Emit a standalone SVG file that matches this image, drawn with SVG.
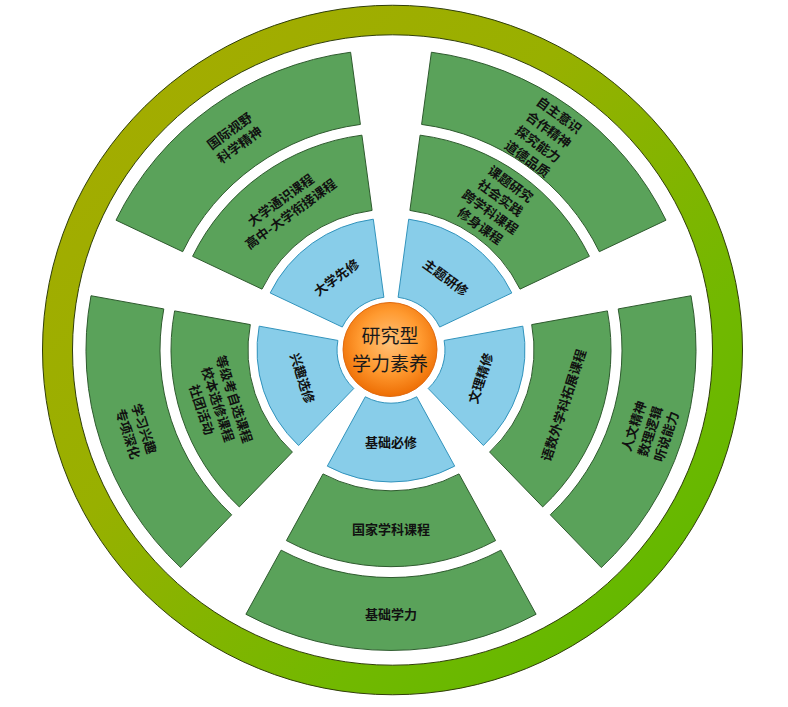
<svg xmlns="http://www.w3.org/2000/svg" width="788" height="707" viewBox="0 0 788 707">
<defs>
<linearGradient id="ringGrad" x1="0" y1="0" x2="1" y2="1">
<stop offset="0" stop-color="#a8aa00"/>
<stop offset="0.4" stop-color="#98b000"/>
<stop offset="0.7" stop-color="#72b800"/>
<stop offset="1" stop-color="#58b800"/>
</linearGradient>
<radialGradient id="orangeGrad" cx="0.5" cy="0.42" r="0.6">
<stop offset="0" stop-color="#ffc27a"/>
<stop offset="0.55" stop-color="#ff9a30"/>
<stop offset="1" stop-color="#ec6a00"/>
</radialGradient>
<style>
.g{fill:#5aa25a;stroke:#2d5a2d;stroke-width:1}
.b{fill:#88cde9;stroke:#3092bb;stroke-width:1}
.t{font-family:"Noto Sans CJK SC","Noto Sans",sans-serif;font-size:13px;font-weight:bold;fill:#111;text-anchor:middle;dominant-baseline:central}
.c{font-family:"Noto Sans CJK SC","Noto Sans",sans-serif;font-size:19px;fill:#1a1a1a;text-anchor:middle}
</style>
</defs>
<rect width="788" height="707" fill="#ffffff"/>

<g id="ring">
<path transform="translate(392.5 350) scale(1 0.985)" fill="url(#ringGrad)" stroke="#2e3c08" stroke-width="1" fill-rule="evenodd" d="M-350,0 a350,350 0 1 0 700,0 a350,350 0 1 0 -700,0 Z M-320,0 a320,320 0 1 0 640,0 a320,320 0 1 0 -640,0 Z"/>
</g>

<g id="node-jichuxueli">
<path class="g" transform="translate(391 350) scale(1 0.985)" d="M145.1,268.3 A305 305 0 0 1 -145.1,268.3 L-109.9,203.2 A231 231 0 0 0 109.9,203.2 Z"/>
<text class="t" x="391" y="613">基础学力</text>
</g>
<g id="node-guojiaxueke">
<path class="g" transform="translate(391 350) scale(1 0.985)" d="M104.6,193.5 A220 220 0 0 1 -104.6,193.5 L-68.0,125.8 A143 143 0 0 0 68.0,125.8 Z"/>
<text class="t" x="391" y="528">国家学科课程</text>
</g>
<g id="node-jichubixiu">
<path class="b" transform="translate(391 350) scale(1 0.985)" d="M63.7,117.9 A134 134 0 0 1 -63.7,117.9 L-25.7,47.5 A54 54 0 0 0 25.7,47.5 Z"/>
<text class="t" x="391" y="441">基础必修</text>
</g>

<g id="node-xuexixingqu">
<path class="g" transform="translate(391 350) scale(1 0.985)" d="M-210.3,220.9 A305 305 0 0 1 -300.0,-55.1 L-227.2,-41.7 A231 231 0 0 0 -159.3,167.3 Z"/>
<text class="t" transform="translate(137 431) rotate(72)"><tspan x="0" y="-8.5">学习兴趣</tspan><tspan x="0" y="8.5">专项深化</tspan></text>
</g>
<g id="node-dengjikao">
<path class="g" transform="translate(391 350) scale(1 0.985)" d="M-151.7,159.3 A220 220 0 0 1 -216.4,-39.7 L-140.7,-25.8 A143 143 0 0 0 -98.6,103.6 Z"/>
<text class="t" transform="translate(219 404) rotate(72)"><tspan x="0" y="-17">等级考自选课程</tspan><tspan x="0" y="0">校本选修课程</tspan><tspan x="0" y="17">社团活动</tspan></text>
</g>
<g id="node-xingquxuanxiu">
<path class="b" transform="translate(391 350) scale(1 0.985)" d="M-92.4,97.0 A134 134 0 0 1 -131.8,-24.2 L-53.1,-9.7 A54 54 0 0 0 -37.2,39.1 Z"/>
<text class="t" transform="translate(303 378) rotate(72)">兴趣选修</text>
</g>

<g id="node-guojishiye">
<path class="g" transform="translate(391 350) scale(1 0.985)" d="M-275.0,-131.8 A305 305 0 0 1 -40.4,-302.3 L-30.6,-229.0 A231 231 0 0 0 -208.3,-99.8 Z"/>
<text class="t" transform="translate(234 137) rotate(-36)"><tspan x="0" y="-8.5">国际视野</tspan><tspan x="0" y="8.5">科学精神</tspan></text>
</g>
<g id="node-daxuetongshi">
<path class="g" transform="translate(391 350) scale(1 0.985)" d="M-198.4,-95.1 A220 220 0 0 1 -29.1,-218.1 L-18.9,-141.7 A143 143 0 0 0 -129.0,-61.8 Z"/>
<text class="t" transform="translate(285 206) rotate(-36)"><tspan x="0" y="-8.5">大学通识课程</tspan><tspan x="0" y="8.5">高中-大学衔接课程</tspan></text>
</g>
<g id="node-daxuexianxiu">
<path class="b" transform="translate(391 350) scale(1 0.985)" d="M-120.8,-57.9 A134 134 0 0 1 -17.7,-132.8 L-7.1,-53.5 A54 54 0 0 0 -48.7,-23.3 Z"/>
<text class="t" transform="translate(336 277) rotate(-36)">大学先修</text>
</g>

<g id="node-zizhuyishi">
<path class="g" transform="translate(391 350) scale(1 0.985)" d="M40.4,-302.3 A305 305 0 0 1 275.0,-131.8 L208.3,-99.8 A231 231 0 0 0 30.6,-229.0 Z"/>
<text class="t" transform="translate(544 136) rotate(36)"><tspan x="0" y="-27">自主意识</tspan><tspan x="0" y="-9">合作精神</tspan><tspan x="0" y="9">探究能力</tspan><tspan x="0" y="27">道德品质</tspan></text>
</g>
<g id="node-ketiyanjiu">
<path class="g" transform="translate(391 350) scale(1 0.985)" d="M29.1,-218.1 A220 220 0 0 1 198.4,-95.1 L129.0,-61.8 A143 143 0 0 0 18.9,-141.7 Z"/>
<text class="t" transform="translate(496 204) rotate(36)"><tspan x="0" y="-26">课题研究</tspan><tspan x="0" y="-8.7">社会实践</tspan><tspan x="0" y="8.7">跨学科课程</tspan><tspan x="0" y="26">修身课程</tspan></text>
</g>
<g id="node-zhutiyanxiu">
<path class="b" transform="translate(391 350) scale(1 0.985)" d="M17.7,-132.8 A134 134 0 0 1 120.8,-57.9 L48.7,-23.3 A54 54 0 0 0 7.1,-53.5 Z"/>
<text class="t" transform="translate(446 277) rotate(36)">主题研修</text>
</g>

<g id="node-renwenjingshen">
<path class="g" transform="translate(391 350) scale(1 0.985)" d="M300.0,-55.1 A305 305 0 0 1 210.3,220.9 L159.3,167.3 A231 231 0 0 0 227.2,-41.7 Z"/>
<text class="t" transform="translate(649 431) rotate(-72)"><tspan x="0" y="-17">人文精神</tspan><tspan x="0" y="0">数理逻辑</tspan><tspan x="0" y="17">听说能力</tspan></text>
</g>
<g id="node-yushuwai">
<path class="g" transform="translate(391 350) scale(1 0.985)" d="M216.4,-39.7 A220 220 0 0 1 151.7,159.3 L98.6,103.6 A143 143 0 0 0 140.7,-25.8 Z"/>
<text class="t" transform="translate(563 405) rotate(-72)">语数外学科拓展课程</text>
</g>
<g id="node-wenlijingxiu">
<path class="b" transform="translate(391 350) scale(1 0.985)" d="M131.8,-24.2 A134 134 0 0 1 92.4,97.0 L37.2,39.1 A54 54 0 0 0 53.1,-9.7 Z"/>
<text class="t" transform="translate(480 378) rotate(-72)">文理精修</text>
</g>

<g id="node-center">
<circle cx="390" cy="349.5" r="47" fill="url(#orangeGrad)" stroke="#e06a10" stroke-width="1"/>
<text class="c" x="390" y="343">研究型</text>
<text class="c" x="390" y="371">学力素养</text>
</g>
</svg>
